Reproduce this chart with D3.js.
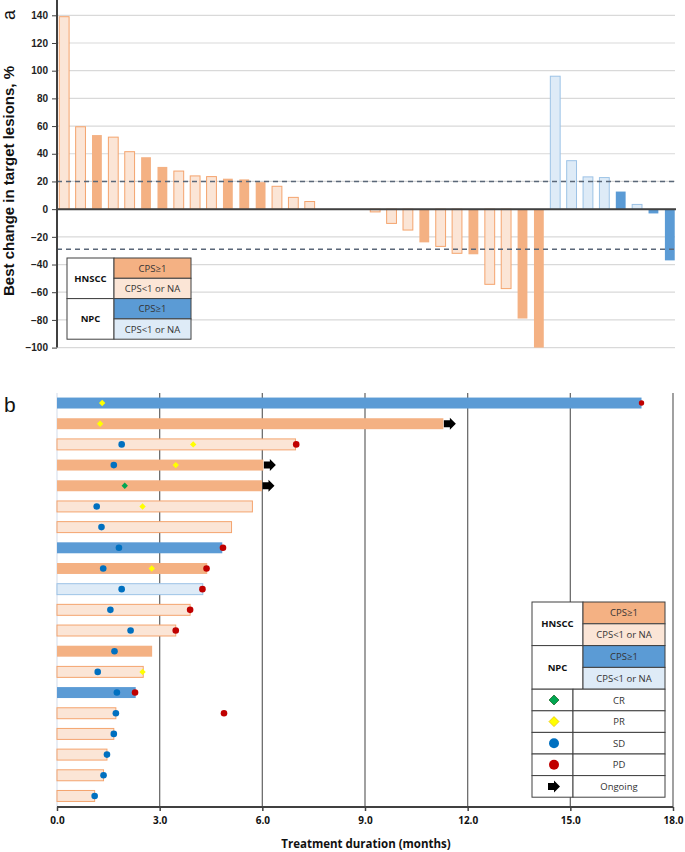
<!DOCTYPE html>
<html>
<head>
<meta charset="utf-8">
<script src="https://cdn.jsdelivr.net/npm/d3@7"></script>
<style>
  body { margin: 0; background: #fff; }
  svg { display: block; }
</style>
</head>
<body>
<svg id="chart" width="685" height="852"></svg>
<script>
// ---- panel a : waterfall ----
// group codes: H1 = HNSCC CPS>=1, H0 = HNSCC CPS<1 or NA, N1 = NPC CPS>=1, N0 = NPC CPS<1 or NA
const bestChange = [139, 59.5, 53.5, 52, 41.5, 37.5, 30.5, 27.5, 24, 23.5, 22, 21.5, 19.5, 16.5, 8.5, 5.5, 0, 0, 0,
  -2, -10.3, -15.1, -24, -26.9, -31.9, -32.6, -54.3, -57.4, -79, -100,
  96, 35, 23.3, 22.8, 12.7, 3.4, -3.1, -37]
const bestGroup = ["H0", "H0", "H1", "H0", "H0", "H1", "H1", "H0", "H0", "H0", "H1", "H1", "H1", "H0", "H0", "H0", "H0", "H0", "H0",
  "H0", "H0", "H0", "H1", "H0", "H0", "H1", "H0", "H0", "H1", "H1",
  "N0", "N0", "N0", "N0", "N1", "N0", "N1", "N1"]
const yTicksA = [140, 120, 100, 80, 60, 40, 20, 0, -20, -40, -60, -80, -100]
const thresholds = [20, -29]

// ---- panel b : swimmer ----
const swimGroup = ["N1", "H1", "H0", "H1", "H1", "H0", "H0", "N1", "H1", "N0", "H0", "H0", "H1", "H0", "N1", "H0", "H0", "H0", "H0", "H0"]
const swimDuration = [17.08, 11.29, 6.97, 6.03, 5.99, 5.71, 5.10, 4.83, 4.39, 4.26, 3.89, 3.47, 2.78, 2.52, 2.30, 1.72, 1.66, 1.46, 1.36, 1.10]
const swimOngoing = [1, 3, 4]
const crEvents = [[4, 1.98]]
const prEvents = [[0, 1.32], [1, 1.26], [2, 3.98], [3, 3.47], [5, 2.5], [8, 2.77], [13, 2.5]]
const sdEvents = [[2, 1.89], [3, 1.66], [5, 1.16], [6, 1.30], [7, 1.81], [8, 1.35], [9, 1.89], [10, 1.56], [11, 2.15],
  [12, 1.68], [13, 1.19], [14, 1.75], [15, 1.72], [16, 1.66], [17, 1.46], [18, 1.36], [19, 1.10]]
const pdEvents = [[0, 17.08], [2, 6.99], [7, 4.85], [8, 4.37], [9, 4.25], [10, 3.89], [11, 3.47], [14, 2.28], [15, 4.88]]
const xTicksB = [0, 3, 6, 9, 12, 15, 18]

const fill = { H1: "#f4b183", H0: "#fbe5d6", N1: "#5b9bd5", N0: "#deebf7" }
const edge = { H1: "#f4b183", H0: "#f4a46e", N1: "#5b9bd5", N0: "#9dc3e6" }

const svg = d3.select("#chart")
const legendFont = "'Open Sans', sans-serif"

// ================= panel a =================
const yA = d3.scaleLinear().domain([-100, 140]).range([347.6, 15.3])
const xA = d3.scaleBand().domain(d3.range(bestChange.length)).range([56, 678])
.paddingInner(0.4).paddingOuter(0.2)

const gA = svg.append("g")

gA.selectAll(".gridA")
.data(yTicksA)
.enter()
.append("line")
.attr("x1", 57).attr("x2", 675)
.attr("y1", (d) => yA(d)).attr("y2", (d) => yA(d))
.attr("stroke", "#d9d9d9")
.attr("stroke-width", 1.2)

gA.selectAll(".barA")
.data(bestChange.map((v, i) => ({ v, i, g: bestGroup[i] })).filter((d) => d.v !== 0))
.enter()
.append("rect")
.attr("x", (d) => xA(d.i))
.attr("width", xA.bandwidth())
.attr("y", (d) => yA(Math.max(d.v, 0)))
.attr("height", (d) => Math.abs(yA(d.v) - yA(0)))
.attr("fill", (d) => fill[d.g])
.attr("stroke", (d) => edge[d.g])
.attr("stroke-width", (d) => (d.g === "H0" || d.g === "N0") ? 1 : 0)

gA.selectAll(".thresh")
.data(thresholds)
.enter()
.append("line")
.attr("x1", 57).attr("x2", 678)
.attr("y1", (d) => yA(d)).attr("y2", (d) => yA(d))
.attr("stroke", "#5a6778")
.attr("stroke-width", 1.5)
.attr("stroke-dasharray", "5,4")

// zero line
gA.append("line")
.attr("x1", 57).attr("x2", 676)
.attr("y1", yA(0)).attr("y2", yA(0))
.attr("stroke", "#404040")
.attr("stroke-width", 2)

const axisA = gA.append("g")
.attr("transform", "translate(57,0)")
.call(d3.axisLeft(yA).tickValues(yTicksA).tickSize(5).tickPadding(4))

axisA.select(".domain").attr("stroke", "#404040").attr("stroke-width", 2)
.attr("d", "M0,0V" + yA(-100))
axisA.selectAll(".tick line").attr("stroke", "#404040")
axisA.selectAll("text")
.attr("font-family", "'Liberation Sans', Arial, sans-serif")
.attr("font-weight", "bold")
.attr("font-size", 10)
.attr("fill", "#222")

gA.append("text")
.attr("transform", "translate(14,181) rotate(-90)")
.attr("text-anchor", "middle")
.attr("font-family", "'Liberation Sans', Arial, sans-serif")
.attr("font-weight", "bold")
.attr("font-size", 15)
.attr("fill", "#111")
.text("Best change in target lesions, %")

gA.append("text")
.attr("transform", "translate(15,15) rotate(-90)")
.attr("text-anchor", "middle")
.attr("font-family", "'Liberation Sans', Arial, sans-serif")
.attr("font-size", 18)
.attr("fill", "#111")
.text("a")

// legend a
function cpsLegend(g, x0, y0, leftW, rightW, rowH) {
  const rows = [["H1", "CPS≥1"], ["H0", "CPS<1 or NA"], ["N1", "CPS≥1"], ["N0", "CPS<1 or NA"]]
  const groups = ["HNSCC", "NPC"]

  g.selectAll(".grpCell")
  .data(groups)
  .enter()
  .append("rect")
  .attr("x", x0).attr("y", (d, i) => y0 + i * 2 * rowH)
  .attr("width", leftW).attr("height", 2 * rowH)
  .attr("fill", "#fff").attr("stroke", "#404040").attr("stroke-width", 1)

  g.selectAll(".grpText")
  .data(groups)
  .enter()
  .append("text")
  .attr("x", x0 + leftW / 2).attr("y", (d, i) => y0 + i * 2 * rowH + rowH + 3.5)
  .attr("text-anchor", "middle")
  .attr("font-family", legendFont).attr("font-weight", "bold").attr("font-size", 9.5)
  .attr("fill", "#111")
  .text((d) => d)

  g.selectAll(".cpsCell")
  .data(rows)
  .enter()
  .append("rect")
  .attr("x", x0 + leftW).attr("y", (d, i) => y0 + i * rowH)
  .attr("width", rightW).attr("height", rowH)
  .attr("fill", (d) => fill[d[0]]).attr("stroke", "#404040").attr("stroke-width", 1)

  g.selectAll(".cpsText")
  .data(rows)
  .enter()
  .append("text")
  .attr("x", x0 + leftW + rightW / 2).attr("y", (d, i) => y0 + i * rowH + rowH / 2 + 3.5)
  .attr("text-anchor", "middle")
  .attr("font-family", legendFont).attr("font-size", 9.5)
  .attr("fill", "#333")
  .text((d) => d[1])
}

cpsLegend(gA.append("g"), 67, 258, 47, 77, 20.3)

// ================= panel b =================
const xB = d3.scaleLinear().domain([0, 18]).range([57, 673])
const yB = d3.scaleBand().domain(d3.range(swimDuration.length)).range([392.7, 806.3])
.paddingInner(0.47).paddingOuter(0.235)
const rowMid = (i) => yB(i) + yB.bandwidth() / 2

const gB = svg.append("g")

gB.append("text")
.attr("x", 4).attr("y", 412)
.attr("font-family", "'Liberation Sans', Arial, sans-serif")
.attr("font-size", 21)
.attr("fill", "#111")
.text("b")

gB.selectAll(".gridB")
.data(xTicksB)
.enter()
.append("line")
.attr("x1", (d) => xB(d)).attr("x2", (d) => xB(d))
.attr("y1", 393).attr("y2", 807)
.attr("stroke", (d) => d === 0 ? "#dde4ee" : "#6e6e6e")
.attr("stroke-width", 1.3)

gB.selectAll(".barB")
.data(swimDuration)
.enter()
.append("rect")
.attr("x", xB(0))
.attr("y", (d, i) => yB(i))
.attr("width", (d) => xB(d) - xB(0))
.attr("height", yB.bandwidth())
.attr("fill", (d, i) => fill[swimGroup[i]])
.attr("stroke", (d, i) => edge[swimGroup[i]])
.attr("stroke-width", (d, i) => (swimGroup[i] === "H0" || swimGroup[i] === "N0") ? 1 : 0)

function arrowPath(x, y, s) {
  // shaft then head, s = scale
  return `M${x},${y - 3.5 * s}H${x + 6 * s}V${y - 6 * s}L${x + 12 * s},${y}L${x + 6 * s},${y + 6 * s}V${y + 3.5 * s}H${x}Z`
}

gB.selectAll(".arrow")
.data(swimOngoing)
.enter()
.append("path")
.attr("d", (i) => arrowPath(xB(swimDuration[i]) + 0.5, rowMid(i), 1))
.attr("fill", "#000")

function diamond(s) {
  return `M0,${-s}L${s},0L0,${s}L${-s},0Z`
}

gB.selectAll(".cr")
.data(crEvents)
.enter()
.append("path")
.attr("transform", (d) => `translate(${xB(d[1])},${rowMid(d[0])})`)
.attr("d", diamond(3.2))
.attr("fill", "#00a651")

gB.selectAll(".pr")
.data(prEvents)
.enter()
.append("path")
.attr("transform", (d) => `translate(${xB(d[1])},${rowMid(d[0])})`)
.attr("d", diamond(3.2))
.attr("fill", "#ffff00")

gB.selectAll(".sd")
.data(sdEvents)
.enter()
.append("circle")
.attr("cx", (d) => xB(d[1]))
.attr("cy", (d) => rowMid(d[0]))
.attr("r", 3.3)
.attr("fill", "#0070c0")

gB.selectAll(".pd")
.data(pdEvents)
.enter()
.append("circle")
.attr("cx", (d) => xB(d[1]))
.attr("cy", (d) => rowMid(d[0]))
.attr("r", (d) => d[0] === 0 ? 2.7 : 3.3)
.attr("fill", "#c00000")

const axisB = gB.append("g")
.attr("transform", "translate(0,807)")
.call(d3.axisBottom(xB).tickValues(xTicksB).tickFormat(d3.format(".1f")).tickSize(4).tickPadding(6))

axisB.select(".domain").attr("stroke", "#404040").attr("stroke-width", 2)
.attr("d", `M${xB(0)},0H${xB(18)}`)
axisB.selectAll(".tick line").attr("stroke", "#404040").attr("stroke-width", 1.5)
axisB.selectAll("text")
.attr("font-family", legendFont)
.attr("font-weight", "bold")
.attr("font-size", 10)
.attr("fill", "#111")

gB.append("text")
.attr("x", 366).attr("y", 848)
.attr("text-anchor", "middle")
.attr("font-family", legendFont)
.attr("font-weight", "bold")
.attr("font-size", 11.5)
.attr("fill", "#111")
.text("Treatment duration (months)")

// legend b
const legB = gB.append("g")
cpsLegend(legB, 532, 602, 51, 82, 21.8)

const markerRows = ["CR", "PR", "SD", "PD", "Ongoing"]
const markY0 = 689.2
const markH = 21.6

legB.selectAll(".mkCellL")
.data(markerRows)
.enter()
.append("rect")
.attr("x", 532).attr("y", (d, i) => markY0 + i * markH)
.attr("width", 41).attr("height", markH)
.attr("fill", "#fff").attr("stroke", "#404040").attr("stroke-width", 1)

legB.selectAll(".mkCellR")
.data(markerRows)
.enter()
.append("rect")
.attr("x", 573).attr("y", (d, i) => markY0 + i * markH)
.attr("width", 92).attr("height", markH)
.attr("fill", "#fff").attr("stroke", "#404040").attr("stroke-width", 1)

legB.selectAll(".mkText")
.data(markerRows)
.enter()
.append("text")
.attr("x", 619).attr("y", (d, i) => markY0 + i * markH + markH / 2 + 3.5)
.attr("text-anchor", "middle")
.attr("font-family", legendFont).attr("font-size", 9.5)
.attr("fill", "#333")
.text((d) => d)

const mkX = 554
const mkY = (i) => markY0 + i * markH + markH / 2

legB.append("path")
.attr("transform", `translate(${mkX},${mkY(0)})`)
.attr("d", diamond(5))
.attr("fill", "#00a651").attr("stroke", "#1f6b2c").attr("stroke-width", 0.8)

legB.append("path")
.attr("transform", `translate(${mkX},${mkY(1)})`)
.attr("d", diamond(5))
.attr("fill", "#ffff00").attr("stroke", "#e8c300").attr("stroke-width", 0.8)

legB.append("circle")
.attr("cx", mkX).attr("cy", mkY(2)).attr("r", 5)
.attr("fill", "#0070c0")

legB.append("circle")
.attr("cx", mkX).attr("cy", mkY(3)).attr("r", 5)
.attr("fill", "#c00000")

legB.append("path")
.attr("d", arrowPath(mkX - 6, mkY(4), 1))
.attr("fill", "#000")
</script>
</body>
</html>
